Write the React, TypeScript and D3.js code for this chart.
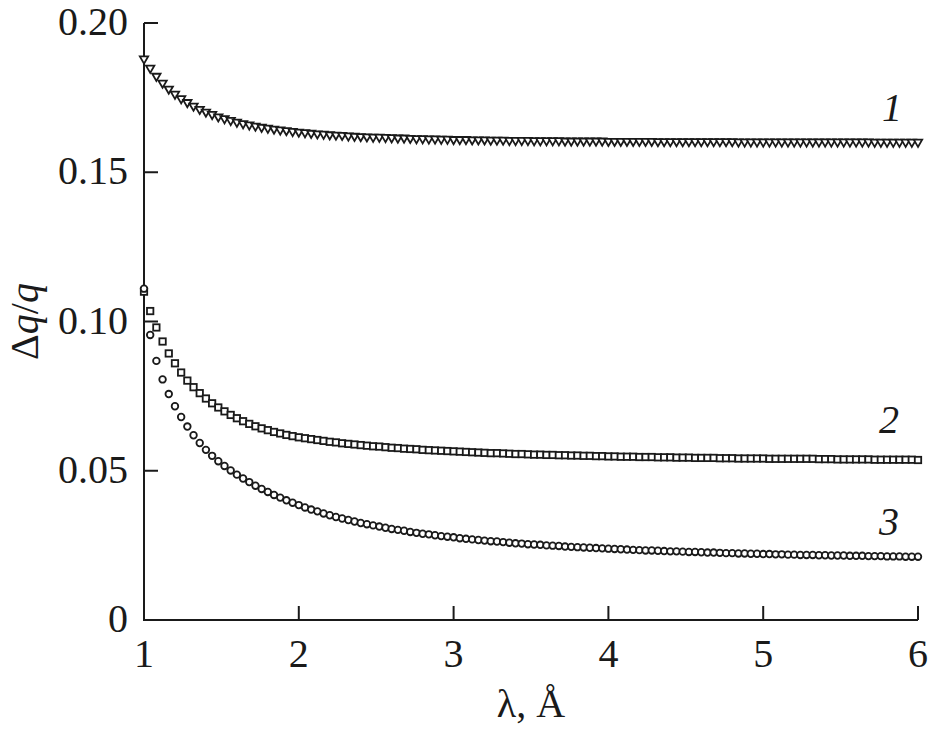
import React from "react";
import * as d3 from "d3";

// sampling grid of wavelength (Å): start and step
const LAMBDA_START = 1;
const LAMBDA_STEP = 0.04;

// Curve 1 (triangles)
const SERIES1 = [
  0.1880, 0.1849, 0.1822, 0.1799, 0.1779, 0.1762, 0.1747, 0.1734, 0.1722, 0.1711,
  0.1702, 0.1694, 0.1686, 0.1680, 0.1674, 0.1668, 0.1663, 0.1659, 0.1655, 0.1651,
  0.1648, 0.1645, 0.1642, 0.1640, 0.1637, 0.1635, 0.1633, 0.1631, 0.1629, 0.1628,
  0.1626, 0.1625, 0.1624, 0.1622, 0.1621, 0.1620, 0.1619, 0.1618, 0.1618, 0.1617,
  0.1616, 0.1615, 0.1615, 0.1614, 0.1613, 0.1613, 0.1612, 0.1612, 0.1611, 0.1611,
  0.1610, 0.1610, 0.1610, 0.1609, 0.1609, 0.1609, 0.1608, 0.1608, 0.1608, 0.1607,
  0.1607, 0.1607, 0.1607, 0.1606, 0.1606, 0.1606, 0.1606, 0.1606, 0.1605, 0.1605,
  0.1605, 0.1605, 0.1605, 0.1605, 0.1605, 0.1604, 0.1604, 0.1604, 0.1604, 0.1604,
  0.1604, 0.1604, 0.1604, 0.1603, 0.1603, 0.1603, 0.1603, 0.1603, 0.1603, 0.1603,
  0.1603, 0.1603, 0.1603, 0.1603, 0.1603, 0.1603, 0.1602, 0.1602, 0.1602, 0.1602,
  0.1602, 0.1602, 0.1602, 0.1602, 0.1602, 0.1602, 0.1602, 0.1602, 0.1602, 0.1602,
  0.1602, 0.1602, 0.1602, 0.1602, 0.1602, 0.1602, 0.1602, 0.1602, 0.1601, 0.1601,
  0.1601, 0.1601, 0.1601, 0.1601, 0.1601, 0.1601,
];

// Curve 2 (squares)
const SERIES2 = [
  0.1100, 0.1035, 0.0980, 0.0933, 0.0893, 0.0860, 0.0829, 0.0802, 0.0780, 0.0760,
  0.0742, 0.0726, 0.0712, 0.0699, 0.0687, 0.0676, 0.0666, 0.0657, 0.0649, 0.0642,
  0.0636, 0.0630, 0.0625, 0.0620, 0.0616, 0.0612, 0.0609, 0.0606, 0.0603, 0.0600,
  0.0597, 0.0595, 0.0592, 0.0590, 0.0588, 0.0586, 0.0584, 0.0582, 0.0581, 0.0579,
  0.0577, 0.0576, 0.0574, 0.0573, 0.0572, 0.0570, 0.0569, 0.0568, 0.0567, 0.0566,
  0.0565, 0.0564, 0.0563, 0.0562, 0.0561, 0.0560, 0.0559, 0.0559, 0.0558, 0.0557,
  0.0556, 0.0556, 0.0555, 0.0554, 0.0554, 0.0553, 0.0553, 0.0552, 0.0552, 0.0551,
  0.0551, 0.0550, 0.0550, 0.0549, 0.0549, 0.0548, 0.0548, 0.0547, 0.0547, 0.0547,
  0.0546, 0.0546, 0.0546, 0.0545, 0.0545, 0.0545, 0.0544, 0.0544, 0.0544, 0.0543,
  0.0543, 0.0543, 0.0543, 0.0542, 0.0542, 0.0542, 0.0541, 0.0541, 0.0541, 0.0541,
  0.0541, 0.0540, 0.0540, 0.0540, 0.0540, 0.0540, 0.0540, 0.0540, 0.0540, 0.0539,
  0.0539, 0.0539, 0.0538, 0.0538, 0.0538, 0.0538, 0.0538, 0.0538, 0.0537, 0.0537,
  0.0537, 0.0537, 0.0537, 0.0537, 0.0537, 0.0536,
];

// Curve 3 (circles)
const SERIES3 = [
  0.1110, 0.0955, 0.0868, 0.0806, 0.0757, 0.0716, 0.0680, 0.0648, 0.0619, 0.0593,
  0.0570, 0.0550, 0.0532, 0.0516, 0.0501, 0.0487, 0.0474, 0.0462, 0.0450, 0.0439,
  0.0429, 0.0419, 0.0410, 0.0401, 0.0393, 0.0385, 0.0377, 0.0370, 0.0364, 0.0357,
  0.0351, 0.0345, 0.0340, 0.0335, 0.0330, 0.0325, 0.0321, 0.0317, 0.0313, 0.0309,
  0.0305, 0.0302, 0.0299, 0.0295, 0.0292, 0.0289, 0.0287, 0.0284, 0.0281, 0.0279,
  0.0277, 0.0274, 0.0272, 0.0270, 0.0268, 0.0266, 0.0264, 0.0263, 0.0261, 0.0259,
  0.0257, 0.0256, 0.0254, 0.0253, 0.0252, 0.0250, 0.0249, 0.0248, 0.0246, 0.0245,
  0.0244, 0.0243, 0.0242, 0.0241, 0.0240, 0.0239, 0.0238, 0.0237, 0.0236, 0.0235,
  0.0234, 0.0233, 0.0233, 0.0232, 0.0231, 0.0230, 0.0230, 0.0229, 0.0228, 0.0228,
  0.0227, 0.0226, 0.0226, 0.0225, 0.0224, 0.0224, 0.0223, 0.0223, 0.0222, 0.0222,
  0.0221, 0.0221, 0.0220, 0.0220, 0.0219, 0.0219, 0.0218, 0.0218, 0.0218, 0.0217,
  0.0217, 0.0216, 0.0216, 0.0216, 0.0215, 0.0215, 0.0215, 0.0214, 0.0214, 0.0214,
  0.0213, 0.0213, 0.0213, 0.0212, 0.0212, 0.0212,
];

const X_TICKS = [1, 2, 3, 4, 5, 6];
const Y_TICKS = [0, 0.05, 0.1, 0.15, 0.2];
const Y_TICK_LABELS = ["0", "0.05", "0.10", "0.15", "0.20"];
const CURVE_LABELS = ["1", "2", "3"];

const FONT = "'Liberation Serif', 'Times New Roman', serif";
const INK = "#1a1a1a";

export default function App() {
  const W = 929;
  const H = 730;
  const x = d3.scaleLinear().domain([1, 6]).range([144, 918]);
  const y = d3.scaleLinear().domain([0, 0.2]).range([620, 23]);
  const lam = (i: number) => LAMBDA_START + i * LAMBDA_STEP;

  const triPath = d3.symbol(d3.symbolTriangle, 30)() as string;

  const labelPos = [
    { x: 882, y: 121 },
    { x: 879, y: 433 },
    { x: 879, y: 535 },
  ];

  return (
    <svg
      width={W}
      height={H}
      viewBox={`0 0 ${W} ${H}`}
      style={{ position: "absolute", left: 0, top: 0, background: "#fff" }}
      fontFamily={FONT}
    >
      <rect x={0} y={0} width={W} height={H} fill="#fff" />
      {/* axes */}
      <line x1={x(1)} x2={x(1)} y1={y(0.2)} y2={y(0)} stroke={INK} strokeWidth={2} />
      <line x1={x(1) - 1} x2={x(6)} y1={y(0)} y2={y(0)} stroke={INK} strokeWidth={2} />
      {Y_TICKS.map((t, i) => (
        <g key={"yt" + i}>
          <line x1={x(1)} x2={x(1) + 14} y1={y(t)} y2={y(t)} stroke={INK} strokeWidth={2} />
          <text x={128} y={y(t) + 12} textAnchor="end" fontSize={40} fill={INK}>
            {Y_TICK_LABELS[i]}
          </text>
        </g>
      ))}
      {X_TICKS.map((t, i) => (
        <g key={"xt" + i}>
          <line x1={x(t)} x2={x(t)} y1={y(0)} y2={y(0) - 14} stroke={INK} strokeWidth={2} />
          <text x={x(t)} y={667} textAnchor="middle" fontSize={40} fill={INK}>
            {String(t)}
          </text>
        </g>
      ))}
      {/* axis titles */}
      <text x={531} y={717} textAnchor="middle" fontSize={40} fill={INK}>
        λ, Å
      </text>
      <text
        transform={`translate(38, ${y(0.1)}) rotate(-90)`}
        textAnchor="middle"
        fontSize={40}
        fill={INK}
      >
        Δ<tspan fontStyle="italic">q</tspan>/<tspan fontStyle="italic">q</tspan>
      </text>

      {/* curve 1: triangles */}
      <g fill="#fff" stroke={INK} strokeWidth={1.8}>
        {SERIES1.map((v, i) => (
          <path key={"t" + i} d={triPath} transform={`translate(${x(lam(i))},${y(v)}) rotate(180)`} />
        ))}
      </g>
      {/* curve 2: squares */}
      <g fill="#fff" stroke={INK} strokeWidth={1.8}>
        {SERIES2.map((v, i) => (
          <rect key={"s" + i} x={x(lam(i)) - 3.2} y={y(v) - 3.2} width={6.4} height={6.4} />
        ))}
      </g>
      {/* curve 3: circles */}
      <g fill="#fff" stroke={INK} strokeWidth={1.8}>
        {SERIES3.map((v, i) => (
          <circle key={"c" + i} cx={x(lam(i))} cy={y(v)} r={3.3} />
        ))}
      </g>

      {/* curve labels */}
      {CURVE_LABELS.map((l, i) => (
        <text key={"l" + i} x={labelPos[i].x} y={labelPos[i].y} fontSize={40} fontStyle="italic" fill={INK}>
          {l}
        </text>
      ))}
    </svg>
  );
}
